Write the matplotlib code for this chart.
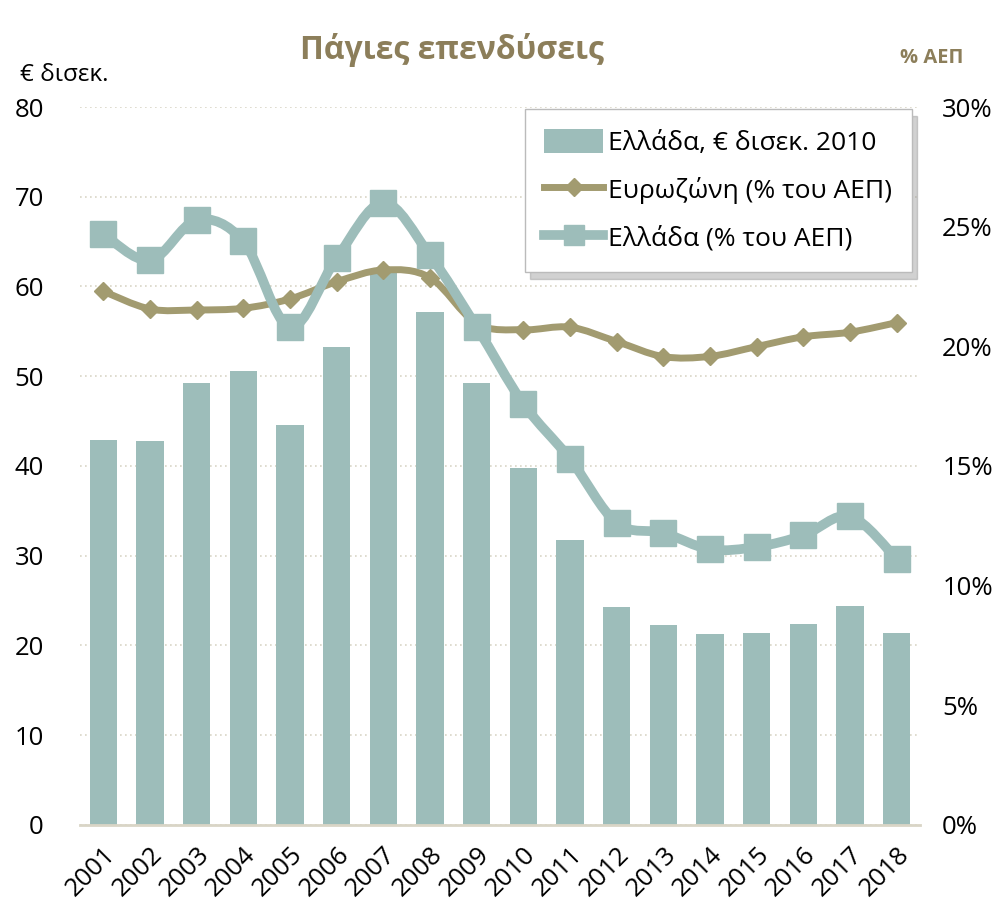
import numpy as np
import matplotlib.pyplot as plt
from matplotlib.path import Path
from matplotlib.patches import PathPatch, Patch
from matplotlib.lines import Line2D

years = [str(y) for y in range(2001, 2019)]
greece_bn = [42.9, 42.75, 49.2, 50.6, 44.6, 53.3, 61.8, 57.2, 49.3, 39.8,
             31.7, 24.25, 22.25, 21.25, 21.4, 22.4, 24.4, 21.4]
euro_pct = [22.3, 21.56, 21.52, 21.59, 21.98, 22.7, 23.19, 22.87, 20.95, 20.69,
            20.8, 20.2, 19.57, 19.58, 19.99, 20.4, 20.59, 20.99]
greece_pct = [24.7, 23.59, 25.28, 24.39, 20.8, 23.69, 26.0, 23.8, 20.8, 17.6,
              15.3, 12.62, 12.21, 11.52, 11.62, 12.1, 12.9, 11.12]
left_ticks = [0, 10, 20, 30, 40, 50, 60, 70, 80]
right_ticks = [0, 5, 10, 15, 20, 25, 30]

BAR_C = '#9dbdba'
OLIVE = '#a29b70'
TITLE_C = '#8c7e5a'
GRID_C = '#d9d5c6'
FONT = ['Open Sans', 'DejaVu Sans']
plt.rcParams['font.family'] = FONT


def smooth_path(xs, ys):
    # Catmull-Rom style bezier, like a spreadsheet "smoothed line"
    xs = np.asarray(xs, float)
    ys = np.asarray(ys, float)
    n = len(xs)
    verts = [(xs[0], ys[0])]
    codes = [Path.MOVETO]
    for i in range(n - 1):
        i0 = max(i - 1, 0)
        i3 = min(i + 2, n - 1)
        c1 = (xs[i] + (xs[i + 1] - xs[i0]) / 6, ys[i] + (ys[i + 1] - ys[i0]) / 6)
        c2 = (xs[i + 1] - (xs[i3] - xs[i]) / 6, ys[i + 1] - (ys[i3] - ys[i]) / 6)
        verts += [c1, c2, (xs[i + 1], ys[i + 1])]
        codes += [Path.CURVE4] * 3
    return Path(verts, codes)


fig = plt.figure(figsize=(10, 9.13), dpi=100)
ax = fig.add_axes([0.08, 0.0964, 0.84, 0.7864])
x = np.arange(len(years))

ax.bar(x, greece_bn, width=0.58, color=BAR_C, zorder=2)
ax.set_xlim(-0.5, len(years) - 0.5)
ax.set_ylim(0, 80)
ax.set_yticks(left_ticks)
ax.set_yticklabels([str(t) for t in left_ticks], fontsize=18.5)
ax.set_xticks(x)
ax.set_xticklabels(years, rotation=45, ha='right', rotation_mode='anchor', fontsize=18.5)
ax.tick_params(axis='both', length=0)
ax.tick_params(axis='y', pad=26)
ax.tick_params(axis='x', pad=12)
for s in ['top', 'right', 'left']:
    ax.spines[s].set_visible(False)
ax.spines['bottom'].set_color(GRID_C)
ax.spines['bottom'].set_linewidth(2)
ax.yaxis.grid(True, linestyle=(0, (1, 2)), color=GRID_C, linewidth=1.2, zorder=0)
ax.set_axisbelow(True)

ax2 = ax.twinx()
ax2.set_ylim(0, 30)
ax2.set_yticks(right_ticks)
ax2.set_yticklabels([f'{t}%' for t in right_ticks], fontsize=18.5)
ax2.tick_params(axis='y', length=0, pad=16)
for s in ax2.spines.values():
    s.set_visible(False)

ax2.add_patch(PathPatch(smooth_path(x, euro_pct), fill=False, edgecolor=OLIVE,
                        linewidth=5, capstyle='round', zorder=3))
ax2.plot(x, euro_pct, linestyle='none', marker='D', markersize=9,
         color=OLIVE, zorder=4)
ax2.add_patch(PathPatch(smooth_path(x, greece_pct), fill=False, edgecolor=BAR_C,
                        linewidth=7, capstyle='round', zorder=5))
ax2.plot(x, greece_pct, linestyle='none', marker='s', markersize=19,
         color=BAR_C, zorder=6)

handles = [
    Patch(facecolor=BAR_C, edgecolor='none'),
    Line2D([0], [0], color=OLIVE, linewidth=5, marker='D', markersize=9),
    Line2D([0], [0], color=BAR_C, linewidth=7, marker='s', markersize=15),
]
labels = ['Ελλάδα, € δισεκ. 2010', 'Ευρωζώνη (% του ΑΕΠ)', 'Ελλάδα (% του ΑΕΠ)']
leg = ax2.legend(handles, labels, loc='upper right', bbox_to_anchor=(0.99, 0.997),
                 fontsize=19, handlelength=2.2, handleheight=1.0, labelspacing=0.8,
                 borderpad=0.75, handletextpad=0.2, borderaxespad=0, fancybox=False,
                 framealpha=1, edgecolor='#bbbbbb',
                 shadow={'color': '0.6', 'alpha': 0.45, 'ox': 4, 'oy': -5})
leg.set_zorder(10)

fig.text(0.452, 0.945, 'Πάγιες επενδύσεις', ha='center', va='center',
         fontsize=23, fontweight='bold', color=TITLE_C,
         family=['Liberation Sans Narrow', 'Open Sans', 'DejaVu Sans'])
fig.text(0.02, 0.918, '€ δισεκ.', ha='left', va='center', fontsize=17.5)
fig.text(0.932, 0.936, '% ΑΕΠ', ha='center', va='center', fontsize=14.5,
         fontweight='bold', color=TITLE_C)

fig.savefig('out.png', dpi=100)
